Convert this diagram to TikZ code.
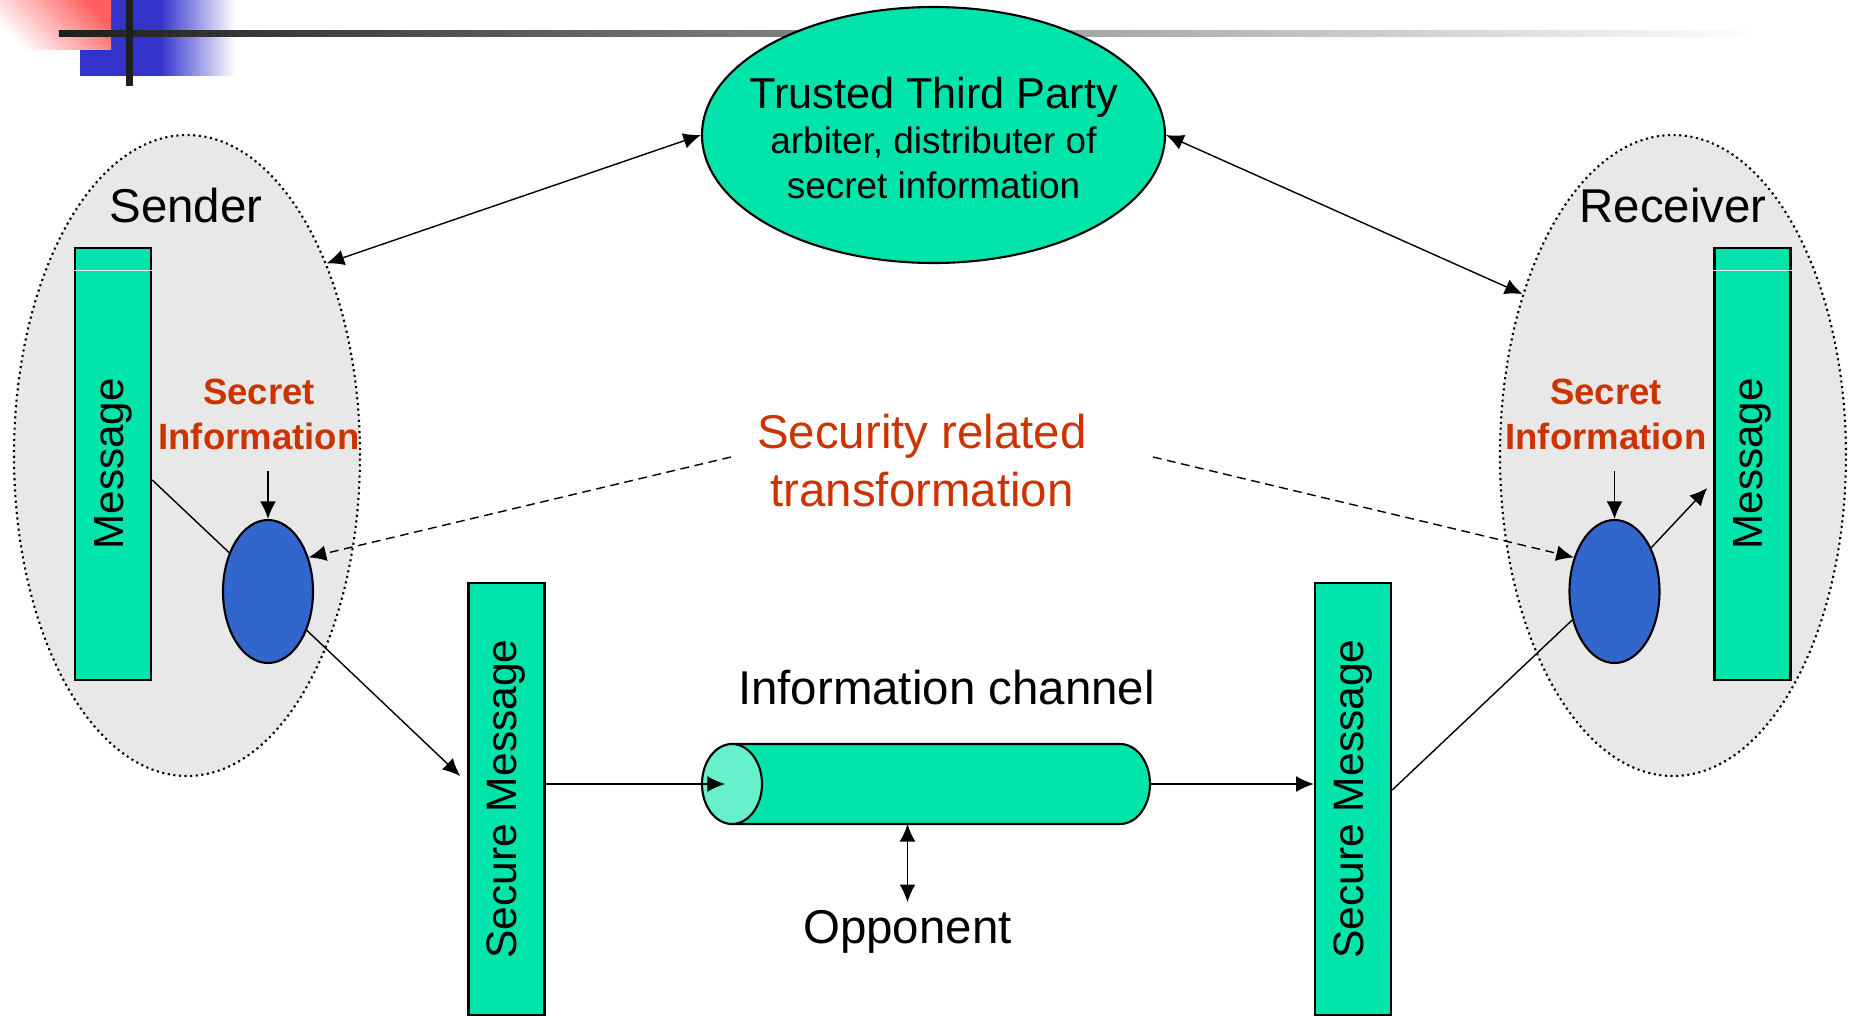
\documentclass[tikz,border=0pt]{standalone}
\usepackage{fontspec}
\setmainfont{Liberation Sans}
\usetikzlibrary{shapes.geometric,arrows.meta}
\definecolor{boxgreen}{RGB}{0,227,170}
\definecolor{facegreen}{RGB}{102,240,204}
\definecolor{opblue}{RGB}{51,102,204}
\definecolor{partygray}{RGB}{232,232,232}
\definecolor{secred}{RGB}{204,51,0}
\definecolor{barblue}{RGB}{51,51,204}
\definecolor{barpink}{RGB}{255,95,95}
\definecolor{bardark}{RGB}{30,30,30}
\newcommand{\bigtxt}{\fontsize{13.5}{16.5}\selectfont}
\newcommand{\msgtxt}{\fontsize{12}{14}\selectfont}
\newcommand{\ttptxt}{\fontsize{10.5}{12.8}\selectfont}
\newcommand{\sectxt}{\fontsize{10.4}{12.8}\selectfont\bfseries}
\begin{document}
\begin{tikzpicture}[>={Latex[length=5pt,width=4.5pt]}]
    \tikzstyle{party}=[ellipse,draw,densely dotted,line width=0.6pt,fill=partygray,minimum width=3.46cm,minimum height=6.41cm,inner sep=0pt]
    \tikzstyle{msgbox}=[rectangle,draw,line width=0.7pt,fill=boxgreen,minimum width=0.76cm,minimum height=4.32cm,inner sep=0pt]
    \tikzstyle{transf}=[ellipse,draw,line width=0.6pt,fill=opblue,minimum width=0.9cm,minimum height=1.43cm,inner sep=0pt]
    \tikzstyle{txt}=[inner sep=2pt,align=center]
    \tikzstyle{secret}=[txt,text=secred,font=\sectxt]

    \useasboundingbox (0,0) rectangle (18.49,-10.16);

    \fill[barblue] (0.80,0) rectangle (1.60,-0.76);
    \shade[left color=barblue,right color=white] (1.60,0) rectangle (2.35,-0.76);
    \shade[top color=barpink,bottom color=white,shading angle=-45] (0,0) rectangle (1.11,-0.49);
    \shade[left color=bardark,right color=white] (0.59,-0.30) rectangle (17.6,-0.37);
    \fill[bardark] (1.26,0) rectangle (1.33,-0.86);

    \node[party](sender) at (1.87,-4.555){};
    \node[party](receiver) at (16.73,-4.555){};
    \node[txt,anchor=base,font=\bigtxt](sname) at (1.86,-2.23){Sender};
    \node[txt,anchor=base,font=\bigtxt](rname) at (16.73,-2.23){Receiver};

    \node[ellipse,draw,line width=0.6pt,fill=boxgreen,minimum width=4.63cm,minimum height=2.56cm](ttp) at (9.335,-1.35){};
    \node[txt,font=\ttptxt](ttpname) at (9.335,-1.38){{\fontsize{12.3}{12.8}\selectfont Trusted Third Party}\\arbiter, distributer of\\secret information};

    \node[msgbox](msg1) at (1.13,-4.64){\rotatebox{90}{\msgtxt Message}};
    \node[msgbox](msg2) at (17.525,-4.64){\rotatebox{90}{\msgtxt Message}};
    \draw[white,line width=0.3pt] ([yshift=-0.24cm]msg1.north west) -- ([yshift=-0.24cm]msg1.north east);
    \draw[white,line width=0.3pt] ([yshift=-0.24cm]msg2.north west) -- ([yshift=-0.24cm]msg2.north east);

    \node[transf](op1) at (2.68,-5.915){};
    \node[transf](op2) at (16.145,-5.915){};
    \node[secret](sec1) at (2.59,-4.14){Secret\\Information};
    \node[secret](sec2) at (16.06,-4.14){Secret\\Information};

    \node[msgbox](smsg1) at (5.065,-7.99){\rotatebox{90}{\fontsize{12.1}{14}\selectfont Secure Message}};
    \node[msgbox](smsg2) at (13.53,-7.99){\rotatebox{90}{\fontsize{12.1}{14}\selectfont Secure Message}};

    \node[minimum width=4.48cm,minimum height=0.8cm,inner sep=0pt,outer sep=0pt](chan) at (9.26,-7.84){};
    \draw[line width=0.6pt,fill=boxgreen] ([xshift=0.30cm]chan.north west) -- ([xshift=-0.30cm]chan.north east)
        arc (90:-90:0.30cm and 0.40cm) -- ([xshift=0.30cm]chan.south west) -- cycle;
    \draw[line width=0.6pt,fill=facegreen] ([xshift=0.30cm]chan.west) ellipse (0.30cm and 0.40cm);
    \node[txt,anchor=base,font=\bigtxt](chname) at (9.465,-7.04){Information channel};
    \node[txt,anchor=base,font=\bigtxt](opp) at (9.075,-9.43){Opponent};
    \node[txt,text=secred,font=\bigtxt](trans) at (9.22,-4.61){Security related\\transformation};
    \coordinate (tl) at (7.31,-4.57);
    \coordinate (tr) at (11.53,-4.57);

    \draw[<->] (sender.54) -- (ttp.west);
    \draw[<->] (receiver.133) -- (ttp.east);
    \draw[<-] (op1.north) -- ++(0,0.48);
    \draw[<-] (op2.north) -- ++(0,0.48);
    \draw ([yshift=-0.16cm]msg1.east) -- (op1.135);
    \draw[->] (op1.-45) -- ([shift={(-0.07,0.23)}]smsg1.west);
    \draw[->] (smsg1.east |- chan) -- ([xshift=0.23cm]chan.west);
    \draw[->] (chan.east) -- (smsg2.west |- chan);
    \draw[<->] (opp.north) -- (opp.north |- chan.south);
    \draw ([yshift=0.09cm]smsg2.east) -- (op2.214);
    \draw[->] (op2.50) -- ([shift={(-0.06,-0.24)}]msg2.west);
    \draw[->,dash pattern=on 2.5pt off 1.6pt] (tl) -- (op1.40);
    \draw[->,dash pattern=on 2.5pt off 1.6pt] (tr) -- (op2.140);
\end{tikzpicture}
\end{document}
